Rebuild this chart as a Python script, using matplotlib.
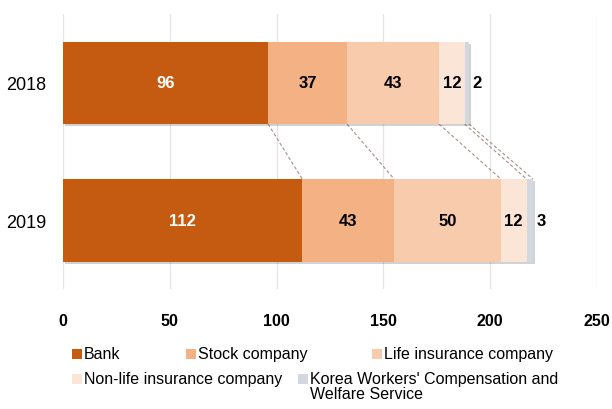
import numpy as np
import matplotlib
matplotlib.use("Agg")
import matplotlib.pyplot as plt
from matplotlib import patheffects as pe
from matplotlib.patches import Rectangle

years = ["2018", "2019"]
categories = ["Bank", "Stock company", "Life insurance company",
              "Non-life insurance company",
              "Korea Workers' Compensation and\nWelfare Service"]
values = {
    "2018": [96, 37, 43, 12, 2],
    "2019": [112, 43, 50, 12, 3],
}
colors = ["#C55A11", "#F4B183", "#F8CBAD", "#FBE5D6", "#D3D8E0"]
xticks = [0, 50, 100, 150, 200, 250]

FONT = ["Liberation Sans", "DejaVu Sans"]

fig = plt.figure(figsize=(6.12, 4.10), dpi=100)
ax = fig.add_axes([63 / 612, 1 - 290 / 410, (597 - 63) / 612, 275 / 410])

bar_h = 0.6
shadow = [pe.SimplePatchShadow(offset=(1.5, -1.5), alpha=0.25), pe.Normal()]
for yi, yr in enumerate(years):
    left = 0
    vals = values[yr]
    for ci, v in enumerate(vals):
        ax.barh(yi, v, left=left, height=bar_h, color=colors[ci],
                edgecolor="none", zorder=3)
        left += v
    # one shadow for the whole stacked bar
    sh = ax.barh(yi, sum(vals), height=bar_h, color="white", edgecolor="none", zorder=2)
    for p in sh:
        p.set_path_effects(shadow)
    left = 0
    for ci, v in enumerate(vals):
        if ci == len(vals) - 1:
            x = left + v + 4
        else:
            x = left + v / 2
        ax.text(x, yi, str(v), ha="center", va="center", fontsize=12, fontweight="bold",
                color="white" if ci == 0 else "black", family=FONT, zorder=5)
        left += v

# dashed connectors between cumulative boundaries
c18 = np.cumsum(values["2018"])
c19 = np.cumsum(values["2019"])
for a, b in zip(c18, c19):
    ax.plot([a, b], [0 + bar_h / 2, 1 - bar_h / 2], linestyle=(0, (3, 2)),
            color="#A89088", linewidth=0.8, zorder=1)

ax.set_xlim(0, 250)
ax.set_ylim(1.5, -0.5)
ax.set_yticks(range(len(years)))
ax.set_yticklabels(years, fontsize=13, family=FONT)
ax.set_xticks(xticks)
ax.set_xticklabels([str(t) for t in xticks], fontsize=11.5, fontweight="bold", family=FONT)
ax.tick_params(axis="both", length=0)
ax.tick_params(axis="x", pad=17)
ax.tick_params(axis="y", pad=12)
ax.grid(axis="x", color="#E4E4E4", linewidth=0.9, zorder=0)
ax.set_axisbelow(True)
for s in ax.spines.values():
    s.set_visible(False)

# legend, placed by hand like the original
legend_pos = [(72, 355), (186, 355), (372, 355), (72, 380), (298, 380)]
for (px, py), lab, col in zip(legend_pos, categories, colors):
    fig.patches.append(Rectangle((px / 612, 1 - (py + 5) / 410), 10 / 612, 10 / 410,
                                 transform=fig.transFigure, facecolor=col,
                                 edgecolor="none"))
    fig.text((px + 12) / 612, 1 - (py - 8) / 410, lab, fontsize=11.5, va="top",
             ha="left", family=FONT, linespacing=1.0)

fig.savefig("out.png", dpi=100)
